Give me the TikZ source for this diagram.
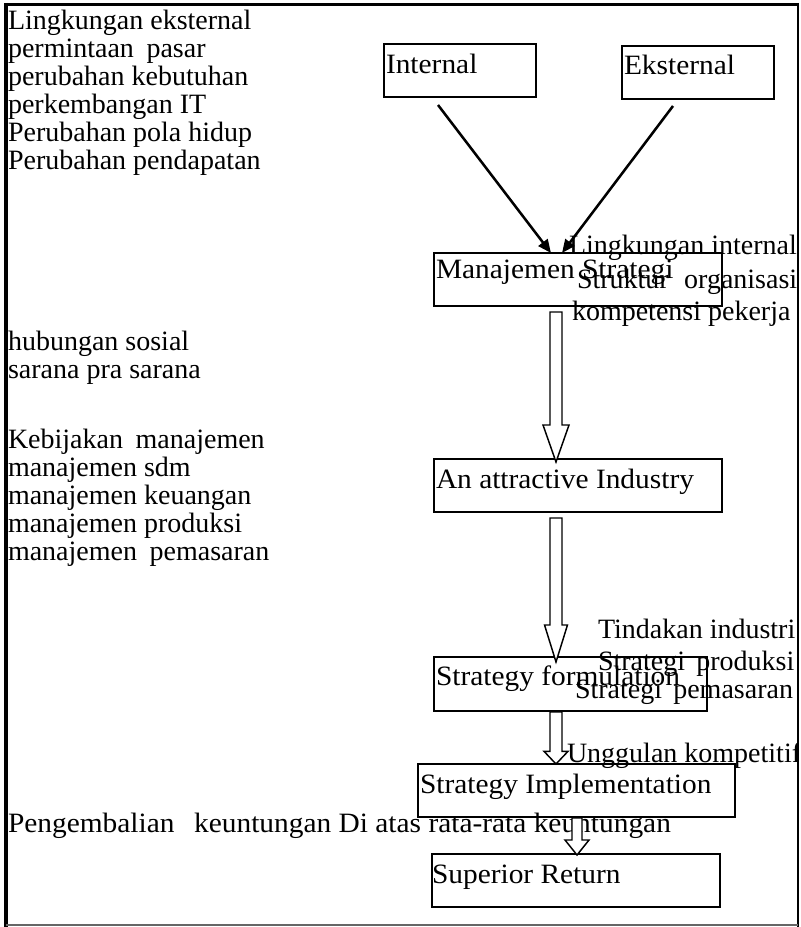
\documentclass[tikz,border=0pt]{standalone}
\usepackage{fontspec}
\setmainfont{Liberation Serif}
\newfontfamily\capfont{Liberation Serif}[FakeStretch=1.05]
\usetikzlibrary{arrows.meta,calc}

% hollow block arrow pointing down: #1 top of shaft, #2 tip,
% #3 half shaft width, #4 half head width, #5 head length (all in pt)
\newcommand\hollowdown[5]{%
  \draw[hollow] let \p1=(#1), \p2=(#2) in
    (\x2-#3,\y1) -- (\x2+#3,\y1) -- (\x2+#3,\y2+#5) -- (\x2+#4,\y2+#5)
    -- (\x2,\y2) -- (\x2-#4,\y2+#5) -- (\x2-#3,\y2+#5) -- cycle;}

\begin{document}
\begin{tikzpicture}[x=0.75pt,y=-0.75pt,
  box/.style 2 args={draw,line width=1.1pt,inner sep=0pt,outer sep=0pt,
    anchor=north west,minimum width={#1*0.75pt},minimum height={#2*0.75pt}},
  lbl/.style={anchor=base west,inner sep=0pt,outer sep=0pt,
    font=\fontsize{21}{25}\selectfont},
  boxcap/.style={lbl,font=\capfont\fontsize{21}{25}\selectfont},
  hollow/.style={draw,line width=1.1pt,fill=white,line join=miter},
  link/.style={line width=1.9pt,-{Triangle[length=10pt,width=8.5pt]}}]

\useasboundingbox (0,0) rectangle (800,927);

\begin{scope}
\clip (0,0) rectangle (797,927);

% boxes of the main chain
\node[box={152}{53}] (internal) at (384,44) {};
\node[box={152}{53}] (external) at (622,46) {};
\node[box={288}{53}] (ms) at (434,253) {};
\node[box={288}{53}] (ai) at (434,459) {};
\node[box={273}{54}] (sf) at (434,657) {};
\node[box={317}{53}] (si) at (418,764) {};
\node[box={288}{53}] (sr) at (432,854) {};

% box captions
\node[boxcap] (internalT) at (386,74) {Internal};
\node[boxcap] (externalT) at (624,75) {Eksternal};
\node[boxcap] (msT) at (436,278) {Manajemen Strategi};
\node[boxcap] (aiT) at (436,488) {An attractive Industry};
\node[boxcap] (sfT) at (436,685) {Strategy formulation};
\node[boxcap] (siT) at (420,793) {Strategy Implementation};
\node[boxcap] (srT) at (432,883) {Superior Return};

% external factors (left column)
\node[lbl] (e1) at (8,30) {Lingkungan eksternal};
\node[lbl] (e2) at (8,58) {permintaan\hspace{0.45em}pasar};
\node[lbl] (e3) at (8,86) {perubahan kebutuhan};
\node[lbl] (e4) at (8,114) {perkembangan IT};
\node[lbl] (e5) at (8,142) {Perubahan pola hidup};
\node[lbl] (e6) at (8,170) {Perubahan pendapatan};
\node[lbl] (e7) at (8,350) {hubungan sosial};
\node[lbl] (e8) at (8,378) {sarana pra sarana};
\node[lbl] (e9) at (8,448) {Kebijakan\hspace{0.45em}manajemen};
\node[lbl] (e10) at (8,476) {manajemen sdm};
\node[lbl] (e11) at (8,504) {manajemen keuangan};
\node[lbl] (e12) at (8,532) {manajemen produksi};
\node[lbl] (e13) at (8,560) {manajemen\hspace{0.45em}pemasaran};

% internal factors and actions (right side)
\node[lbl] (i1) at (569,254) {Lingkungan internal};
\node[lbl] (i2) at (577,288) {Struktur\hspace{0.55em}organisasi};
\node[lbl] (i3) at (572,320) {kompetensi pekerja};
\node[lbl] (a1) at (598,638) {Tindakan industri};
\node[lbl] (a2) at (598,670) {Strategi\hspace{0.4em}produksi};
\node[lbl] (a3) at (575,698) {Strategi\hspace{0.4em}pemasaran};
\node[lbl] (a4) at (567,762) {Unggulan kompetitif};
\node[boxcap] (ret) at (8,832) {Pengembalian\hspace{0.7em}keuntungan Di atas rata-rata keuntungan};
\end{scope}

% arrows from the two sources into strategic management
\coordinate (inS) at ($(internal.south west)+(54,8)$);
\coordinate (exS) at ($(external.south west)+(51,7)$);
\coordinate (msA) at ($(ms.north west)+(117,0)$);
\coordinate (msB) at ($(ms.north west)+(128,0)$);
\draw[link] (inS) -- (msA);
\draw[link] (exS) -- (msB);

% hollow block arrows down the chain
\coordinate (t1) at ($(ms.south west)+(122,6)$);
\coordinate (h1) at ($(ai.north west)+(122,3)$);
\coordinate (t2) at ($(ai.south west)+(122,6)$);
\coordinate (h2) at ($(sf.north west)+(122,5)$);
\coordinate (t3) at ($(sf.south west)+(123,1)$);
\coordinate (h3) at ($(si.north west)+(138,0)$);
\coordinate (t4) at ($(si.south west)+(159,1)$);
\coordinate (h4) at ($(sr.north west)+(145,1)$);
\hollowdown{t1}{h1}{4.5pt}{9.75pt}{27.75pt}
\hollowdown{t2}{h2}{4.5pt}{8.6pt}{27.75pt}
\hollowdown{t3}{h3}{4.5pt}{9pt}{9.5pt}
\hollowdown{t4}{h4}{3.75pt}{9pt}{11.25pt}

% outer frame
\draw[line width=2.6pt] (4,4.5) -- (799,4.5);
\draw[line width=3pt] (6,3) -- (6,927);
\draw[line width=1.6pt] (798,3) -- (798,927);
\draw[line width=1.1pt,black!60] (6,925) -- (798,925);
\end{tikzpicture}
\end{document}
